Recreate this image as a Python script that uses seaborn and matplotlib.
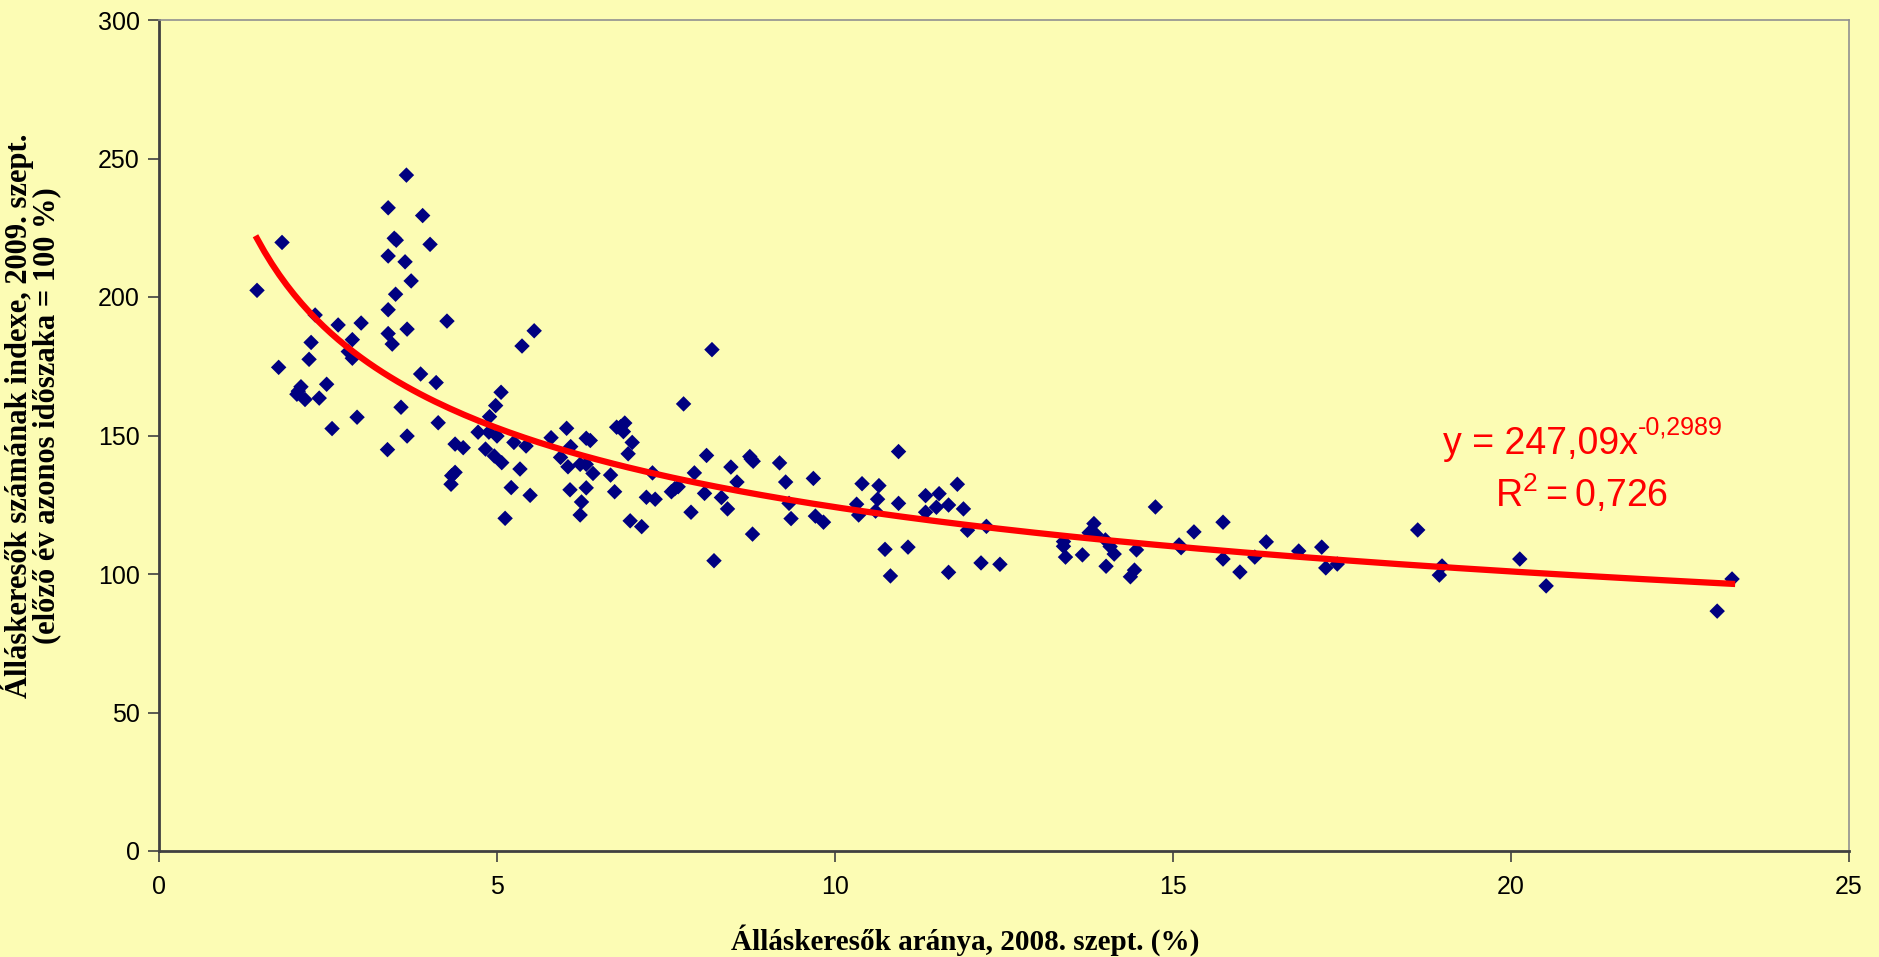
import numpy as np
import pandas as pd
import matplotlib
matplotlib.use('Agg')
import matplotlib.pyplot as plt
import seaborn as sns

# data (x: job seekers share 2008 Sept %, y: index 2009 Sept)
x_share = [1.45, 1.82, 1.77, 2.04, 2.10, 2.16, 2.06, 2.37, 2.48, 2.56, 2.93, 2.22, 2.25, 2.31, 2.65, 2.99, 2.86, 2.80, 2.86,
           3.39, 3.66, 3.90, 3.48, 3.51, 4.01, 3.39, 3.64, 3.73, 3.50, 3.39, 4.26, 3.39, 3.45, 3.67, 3.87, 4.10, 3.58, 4.13, 3.38, 3.67,
           4.38, 4.50, 4.38, 4.33, 4.32, 4.72, 4.88, 5.00, 4.89, 4.98, 5.06, 4.83, 4.96, 5.07, 5.21, 5.12, 5.25,
           5.37, 5.55, 5.43, 5.34, 5.49, 5.80, 6.03, 6.09, 5.94, 6.05, 6.08, 6.23, 6.32, 6.32, 6.38, 6.32, 6.25, 6.23, 6.42,
           6.68, 6.74, 6.77, 6.83, 6.87, 6.89, 7.00, 6.94, 6.97, 7.14, 7.21, 7.34, 7.30, 7.58, 7.68, 7.76, 7.87, 7.92, 7.63,
           8.10, 8.07, 8.18, 8.21, 8.32, 8.41, 8.46, 8.55, 8.74, 8.79, 8.76, 8.78, 9.18, 9.27, 9.32, 9.35, 9.68, 9.71, 9.83,
           10.40, 10.32, 10.35, 10.65, 10.63, 10.60, 10.74, 10.82, 10.94, 10.94, 11.08,
           11.34, 11.34, 11.50, 11.54, 11.68, 11.81, 11.90, 11.96, 11.68, 12.16, 12.24, 12.44,
           13.38, 13.38, 13.41, 13.66, 13.83, 13.76, 13.86, 14.00, 14.07, 14.13, 14.01, 14.43, 14.37, 14.46, 14.74, 15.09, 15.12,
           15.31, 15.74, 15.74, 15.99, 16.21, 16.38, 16.86, 17.20, 17.26, 17.43, 18.62, 18.94, 18.98, 20.13, 20.52, 23.05, 23.27]
y_index = [202.4, 219.7, 174.6, 164.9, 167.6, 163.0, 166.0, 163.5, 168.5, 152.5, 156.6, 177.5, 183.6, 193.5, 189.9, 190.6, 184.6, 180.3, 177.9,
           232.2, 244.0, 229.4, 221.2, 220.5, 219.0, 214.8, 212.7, 205.8, 201.0, 195.4, 191.3, 186.8, 183.0, 188.4, 172.2, 169.1, 160.2, 154.6, 144.9, 149.8,
           146.9, 145.6, 136.7, 135.5, 132.4, 151.2, 151.2, 149.8, 156.8, 160.8, 165.6, 145.1, 142.6, 140.2, 131.2, 120.1, 147.5,
           182.3, 187.8, 146.2, 137.9, 128.4, 149.2, 152.6, 146.0, 142.1, 138.7, 130.4, 139.6, 139.6, 149.0, 148.2, 131.1, 126.0, 121.3, 136.3,
           135.7, 129.7, 153.0, 153.2, 151.4, 154.5, 147.5, 143.4, 119.2, 117.1, 127.7, 127.0, 136.5, 129.7, 131.5, 161.4, 122.3, 136.5, 130.8,
           142.8, 129.1, 181.0, 104.8, 127.6, 123.5, 138.6, 133.2, 142.4, 140.7, 141.5, 114.4, 140.1, 133.2, 125.5, 120.0, 134.5, 120.9, 118.7,
           132.6, 125.2, 121.3, 131.9, 127.0, 122.7, 108.9, 99.3, 144.2, 125.5, 109.7,
           128.3, 122.3, 124.1, 129.0, 124.9, 132.4, 123.5, 115.8, 100.6, 104.0, 117.2, 103.5,
           111.7, 110.0, 106.1, 106.9, 118.2, 114.9, 114.3, 112.3, 109.9, 107.2, 102.8, 101.4, 99.0, 108.7, 124.2, 110.5, 109.5,
           115.2, 118.7, 105.4, 100.7, 106.1, 111.6, 108.3, 109.7, 102.2, 103.6, 115.9, 99.6, 102.9, 105.4, 95.7, 86.6, 98.2]

# power trendline shown on the chart
coef_a = 247.09
coef_b = -0.2989
eq_base = 'y = 247,09x'
eq_exp = '-0,2989'
r_squared = '0,726'

x_ticks = [0, 5, 10, 15, 20, 25]
y_ticks = [0, 50, 100, 150, 200, 250, 300]

df = pd.DataFrame({'share': x_share, 'index': y_index})
xs = np.linspace(min(x_share), max(x_share), 200)
df_fit = pd.DataFrame({'share': xs, 'index': coef_a * xs ** coef_b})

bg = '#FCFCB4'
plt.rcParams['mathtext.fontset'] = 'custom'
plt.rcParams['mathtext.rm'] = 'Liberation Sans'

# plot
fig = plt.figure(figsize=(18.79, 9.57), dpi=100, facecolor=bg)
ax = fig.add_axes([159 / 1879, 106 / 957, 1690 / 1879, 831 / 957])
ax.set_facecolor(bg)

sns.scatterplot(x='share', y='index', data=df, marker='D', s=62, color='#000080',
                edgecolor='none', linewidth=0, ax=ax, zorder=3)
sns.lineplot(x='share', y='index', data=df_fit, color='#FF0000', linewidth=4.5, ax=ax, zorder=4)

ax.set_xlim(0, 25)
ax.set_ylim(0, 300)
ax.set_xticks(x_ticks)
ax.set_yticks(y_ticks)
ax.tick_params(axis='both', direction='out', length=8, width=1.2, color='#404040',
               labelsize=18, labelcolor='black')
ax.tick_params(axis='y', pad=6)
ax.tick_params(axis='x', pad=9)
for lab in ax.get_xticklabels() + ax.get_yticklabels():
    lab.set_family('Liberation Sans')

for side in ['left', 'bottom']:
    ax.spines[side].set_color('#404040')
    ax.spines[side].set_linewidth(2)
for side in ['top', 'right']:
    ax.spines[side].set_color('#909090')
    ax.spines[side].set_linewidth(1.2)

ax.set_xlabel('Álláskeresők aránya, 2008. szept. (%)', family='Liberation Serif',
              fontweight='bold', fontsize=21)
ax.xaxis.set_label_coords(0.477, -0.088)
ax.set_ylabel('Álláskeresők számának indexe, 2009. szept.\n(előző év azonos időszaka = 100 %)',
              family='Liberation Serif', fontweight='bold', fontsize=22, linespacing=0.9)
ax.yaxis.set_label_coords(-0.058, 0.524)

# trendline equation
t1 = ax.text(20.43, 147, eq_base, color='#FF0000', fontsize=27, ha='center', va='center',
             family='Liberation Sans')
ax.annotate(eq_exp, xy=(1.0, 0.62), xycoords=t1, color='#FF0000', fontsize=18,
            ha='left', va='bottom', family='Liberation Sans')
ax.text(21.05, 129, r'$\mathregular{R^{2} = ' + r_squared.replace(',', '{,}') + '}$', color='#FF0000',
        fontsize=27, ha='center', va='center', family='Liberation Sans')

fig.savefig('out.png', dpi=100, facecolor=bg)
